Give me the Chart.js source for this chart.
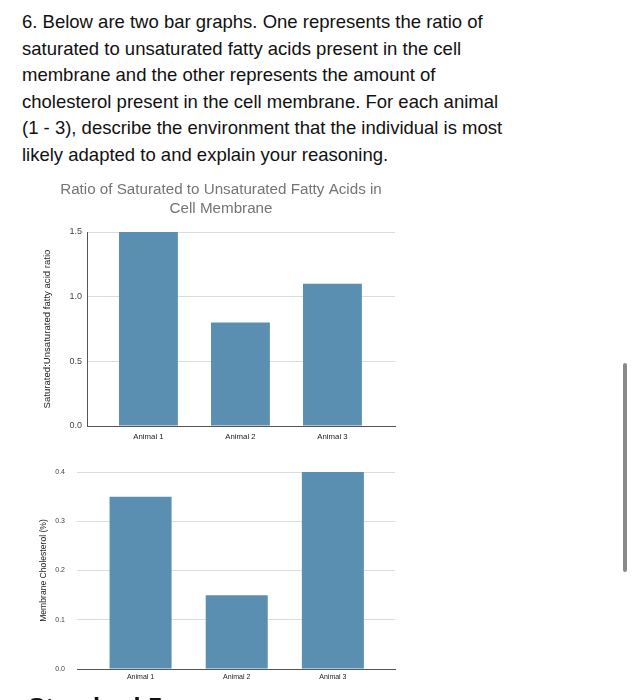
<!DOCTYPE html>
<html lang="en">
<head>
  <meta charset="UTF-8">
  <title>Fatty Acids and Cholesterol</title>
  <script src="https://cdn.jsdelivr.net/npm/chart.js"></script>
  <style>
    html, body { margin: 0; padding: 0; background: #fff; }
    body { width: 634px; height: 700px; overflow: hidden; position: relative; font-family: "Liberation Sans", Arial, sans-serif; }
    #question {
      position: absolute; left: 22px; top: 9px; width: 610px; white-space: nowrap;
      font-size: 18.5px; line-height: 26.5px; color: #111;
    }
    #next {
      position: absolute; left: 28px; top: 692px;
      font-size: 26px; font-weight: bold; color: #111;
    }
    .box { position: absolute; left: 30px; width: 382px; }
    #box1 { top: 180px; height: 263px; }
    #box2 { top: 462px; height: 238px; }
    #scroll {
      position: absolute; left: 623px; top: 363px; width: 4px; height: 209px;
      background: #8a8a8a; border-radius: 2px;
    }
  </style>
</head>
<body>
  <div id="question">6. Below are two bar graphs. One represents the ratio of<br>saturated to unsaturated fatty acids present in the cell<br>membrane and the other represents the amount of<br>cholesterol present in the cell membrane. For each animal<br>(1 - 3), describe the environment that the individual is most<br>likely adapted to and explain your reasoning.</div>
  <div class="box" id="box1"><canvas id="ratioChart"></canvas></div>
  <div class="box" id="box2"><canvas id="cholChart"></canvas></div>
  <div id="next">Standard 5</div>
  <div id="scroll"></div>

  <script>
    // data
    const animals = ['Animal 1', 'Animal 2', 'Animal 3'];
    const ratioValues = [1.5, 0.8, 1.1];
    const cholesterolValues = [0.35, 0.15, 0.4];
    const ratioTicks = [0, 0.5, 1.0, 1.5];
    const cholTicks = [0, 0.1, 0.2, 0.3, 0.4];

    const barColor = '#5a8fb1';
    const fontFam = '"Liberation Sans", Arial, sans-serif';

    function makeChart(id, values, yTicks, opt) {
      const pts = values.map((v, i) => ({ x: i + 1, y: v }));
      return new Chart(document.getElementById(id), {
        type: 'bar',
        data: {
          datasets: [{
            data: pts,
            backgroundColor: barColor,
            barPercentage: 1,
            categoryPercentage: opt.barPct
          }]
        },
        options: {
          responsive: true,
          maintainAspectRatio: false,
          animation: false,
          layout: { padding: { top: opt.padTop, right: 17, left: opt.padLeft, bottom: 0 } },
          plugins: {
            legend: { display: false },
            tooltip: { enabled: false },
            title: opt.title ? {
              display: true,
              text: opt.title,
              color: '#757575',
              font: { family: fontFam, size: 15.2, weight: 'normal', lineHeight: 1.25 },
              padding: { top: 0, bottom: 14 }
            } : { display: false }
          },
          scales: {
            x: {
              type: 'linear',
              offset: false,
              min: opt.xMin,
              max: opt.xMax,
              afterBuildTicks: s => { s.ticks = animals.map((a, i) => ({ value: i + 1 })); },
              ticks: {
                callback: v => animals[v - 1],
                color: '#222',
                font: { family: fontFam, size: opt.xFont },
                padding: opt.xPad,
                maxRotation: 0,
                autoSkip: false
              },
              grid: { display: false, drawTicks: false },
              border: { display: true, color: '#555', width: 1 },
              afterFit: s => { s.height = opt.xHeight; }
            },
            y: {
              min: 0,
              max: yTicks[yTicks.length - 1],
              afterBuildTicks: s => { s.ticks = yTicks.map(v => ({ value: v })); },
              ticks: {
                callback: v => v.toFixed(1),
                color: '#444',
                font: { family: fontFam, size: opt.yFont },
                padding: opt.yPad
              },
              grid: { color: '#dcdcdc', drawTicks: false },
              border: { display: opt.yBorder, color: '#555', width: 1 },
              title: {
                display: true,
                text: opt.yTitle,
                color: '#222',
                font: { family: fontFam, size: opt.yTitleFont },
                padding: { top: opt.yTitlePad, bottom: 0 }
              },
              afterFit: s => {
                s.width = opt.yWidth;
                s.paddingTop = 0;
                s.paddingBottom = 0;
              }
            }
          }
        }
      });
    }

    makeChart('ratioChart', ratioValues, ratioTicks, {
      title: ['Ratio of Saturated to Unsaturated Fatty Acids in', 'Cell Membrane'],
      barPct: 0.64,
      padTop: 0, padLeft: 17,
      xMin: 0.332, xMax: 3.68,
      xFont: 7.8, xPad: 6, xHeight: 17,
      yFont: 9, yPad: 5, yBorder: true,
      yTitle: 'Saturated:Unsaturated fatty acid ratio',
      yTitleFont: 9.6, yTitlePad: -5.8,
      yWidth: 40
    });

    makeChart('cholChart', cholesterolValues, cholTicks, {
      title: null,
      barPct: 0.645,
      padTop: 10, padLeft: 0,
      xMin: 0.339, xMax: 3.646,
      xFont: 7, xPad: 4, xHeight: 31,
      yFont: 7, yPad: 12, yBorder: false,
      yTitle: 'Membrane Cholesterol (%)',
      yTitleFont: 8.6, yTitlePad: 8,
      yWidth: 47
    });
  </script>
</body>
</html>
